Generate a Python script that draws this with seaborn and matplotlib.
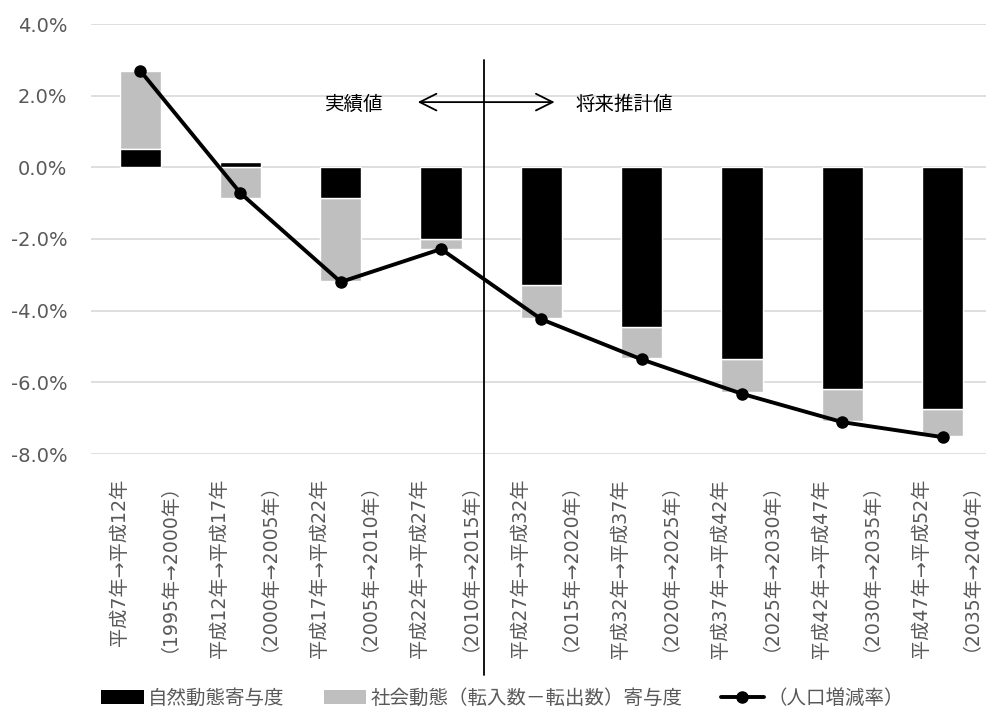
import numpy as np
import pandas as pd
import matplotlib
matplotlib.use("Agg")
import matplotlib.pyplot as plt
import matplotlib.transforms as mtransforms
from matplotlib.patches import Patch
from matplotlib.lines import Line2D
import seaborn as sns

# Period labels (Japanese era / Western years)
periods_jp = ["平成7年→平成12年", "平成12年→平成17年", "平成17年→平成22年",
              "平成22年→平成27年", "平成27年→平成32年", "平成32年→平成37年",
              "平成37年→平成42年", "平成42年→平成47年", "平成47年→平成52年"]
periods_ad = ["（1995年→2000年）", "（2000年→2005年）", "（2005年→2010年）",
              "（2010年→2015年）", "（2015年→2020年）", "（2020年→2025年）",
              "（2025年→2030年）", "（2030年→2035年）", "（2035年→2040年）"]

# Contributions (%)
natural = [0.50, 0.15, -0.85, -1.99, -3.27, -4.45, -5.36, -6.18, -6.74]
social = [2.20, -0.85, -2.32, -0.28, -0.94, -0.86, -0.92, -0.90, -0.77]
# Population change rate (%)
total = [2.70, -0.72, -3.20, -2.28, -4.24, -5.36, -6.32, -7.11, -7.53]

y_ticks = [4, 2, 0, -2, -4, -6, -8]

sns.set_theme(style="white")
plt.rcParams["font.family"] = ["DejaVu Sans", "Noto Sans CJK JP"]

TXT = "#595959"
GRAY = "#bfbfbf"

df = pd.DataFrame({"period": periods_jp, "natural": natural,
                   "social": social, "total": total})
# social bars stack on the natural bar when both share a sign, else start at zero
df["social_bottom"] = np.where(np.sign(df["natural"]) == np.sign(df["social"]),
                               df["natural"], 0.0)

fig = plt.figure(figsize=(9.86, 7.09), dpi=100)
ax = fig.add_axes([91 / 986, 1 - 454 / 709, 895 / 986, 430 / 709])

pos = np.arange(len(df))
ax.bar(pos, df["social"], bottom=df["social_bottom"], width=0.41,
       color=GRAY, zorder=2)
sns.barplot(data=df, x="period", y="natural", color="black", width=0.41,
            saturation=1, ax=ax, zorder=3)
sns.lineplot(x=pos, y=df["total"], color="black", linewidth=2.8,
             marker="o", markersize=9, markeredgewidth=0, ax=ax, zorder=4)

ax.set_xlim(-0.49, -0.49 + 895 / 100.3)
ax.set_ylim(-8, 4)
ax.set_yticks(y_ticks)
ax.set_yticklabels([f"{v:.1f}%" for v in y_ticks], color=TXT, fontsize=14)
ax.tick_params(axis="y", length=0, pad=17)
ax.set_xticks(pos)
ax.set_xticklabels([])
ax.tick_params(axis="x", length=0)
ax.set_xlabel("")
ax.set_ylabel("")
ax.yaxis.grid(True, color="#d9d9d9", linewidth=1.2, zorder=0)
ax.set_axisbelow(True)
for s in ax.spines.values():
    s.set_visible(False)

# Two-line rotated period labels under each column
trans = mtransforms.blended_transform_factory(ax.transData, fig.transFigure)
for i in pos:
    ax.text(i - 0.21, 1 - 479 / 709, periods_jp[i], rotation=90, ha="center",
            va="top", fontsize=13.8, color=TXT, transform=trans)
    ax.text(i + 0.19, 1 - 464 / 709, periods_ad[i], rotation=90, ha="center",
            va="top", fontsize=13.6, color=TXT, transform=trans)

# Divider between observed and projected periods
fig.add_artist(Line2D([3.43, 3.43], [1 - 675 / 709, 1 - 60 / 709],
                      transform=trans, color="black", linewidth=1.3))

ax.annotate("", xy=(2.74, 1.82), xytext=(4.16, 1.82),
            arrowprops=dict(arrowstyle="<->", color="black", lw=1.3,
                            mutation_scale=30))
ax.text(2.13, 1.76, "実績値", ha="center", va="center", fontsize=14,
        color="black")
ax.text(4.83, 1.76, "将来推計値", ha="center", va="center", fontsize=14,
        color="black")

handles = [Patch(facecolor="black", edgecolor="none"),
           Patch(facecolor=GRAY, edgecolor="none"),
           Line2D([0], [0], color="black", linewidth=2.8, marker="o",
                  markersize=8)]
labels = ["自然動態寄与度", "社会動態（転入数－転出数）寄与度", "（人口増減率）"]
leg = fig.legend(handles, labels, loc="center", ncol=3, frameon=False,
                 bbox_to_anchor=(0.51, 1 - 698 / 709), fontsize=14,
                 handlelength=2.2, handleheight=0.7, handletextpad=0.2,
                 columnspacing=2.0)
for t in leg.get_texts():
    t.set_color(TXT)

fig.savefig("out.png", dpi=100)
